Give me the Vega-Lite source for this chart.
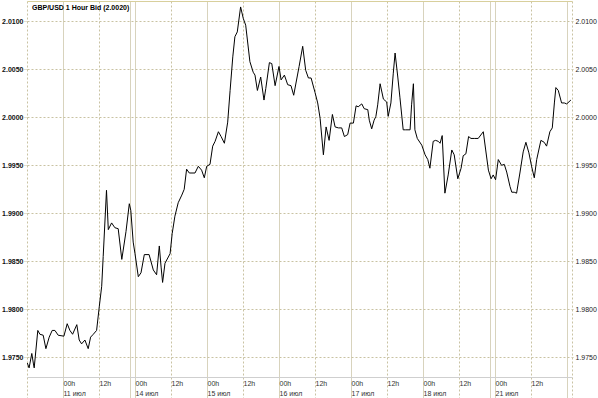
{
  "$schema": "https://vega.github.io/schema/vega-lite/v6.json",
  "width": 545,
  "height": 397,
  "autosize": {"type": "none"},
  "padding": {"left": 27, "top": 1, "right": 26, "bottom": 0},
  "background": "#ffffff",
  "config": {"view": {"stroke": null}, "font": "Liberation Sans"},
  "title": {"text": "GBP/USD 1 Hour Bid (2.0020)", "anchor": "start", "frame": "group", "orient": "top", "offset": -10, "dx": 5, "fontSize": 7, "fontWeight": "bold", "color": "#000000", "font": "Liberation Sans"},
  "data": {"values": [
    {"h":0.1,"v":1.9744},{"h":0.7,"v":1.9739},{"h":1.6,"v":1.9754},{"h":2.1,"v":1.9744},{"h":2.4,"v":1.9739},
    {"h":3.6,"v":1.9778},{"h":4.3,"v":1.9774},{"h":5.4,"v":1.9773},{"h":6.3,"v":1.9759},{"h":7.4,"v":1.9771},
    {"h":8.4,"v":1.9778},{"h":9.3,"v":1.9778},{"h":10.4,"v":1.9773},{"h":12.3,"v":1.9772},{"h":13.4,"v":1.9785},
    {"h":14.3,"v":1.9778},{"h":15.2,"v":1.9774},{"h":16.6,"v":1.9784},{"h":17.4,"v":1.9768},{"h":18.2,"v":1.9764},
    {"h":19.3,"v":1.9768},{"h":20.4,"v":1.9759},{"h":21.2,"v":1.9771},{"h":22.1,"v":1.9774},{"h":23.2,"v":1.9778},
    {"h":24.1,"v":1.9803},{"h":24.9,"v":1.9824},{"h":25.4,"v":1.9855},{"h":26.5,"v":1.9924},{"h":27.1,"v":1.9883},
    {"h":28.2,"v":1.9890},{"h":29.3,"v":1.9885},{"h":30.4,"v":1.9884},{"h":31.6,"v":1.9852},{"h":33,"v":1.9881},
    {"h":34.1,"v":1.9910},{"h":34.6,"v":1.9903},{"h":35.4,"v":1.9870},{"h":36,"v":1.9858},{"h":37.1,"v":1.9834},
    {"h":38,"v":1.9838},{"h":39.1,"v":1.9857},{"h":40.7,"v":1.9857},{"h":42.1,"v":1.9841},{"h":43.2,"v":1.9836},
    {"h":44.1,"v":1.9866},{"h":44.7,"v":1.9844},{"h":45.2,"v":1.9828},{"h":46,"v":1.9848},{"h":47.7,"v":1.9858},
    {"h":48.4,"v":1.9879},{"h":49.3,"v":1.9897},{"h":50.4,"v":1.9911},{"h":51.6,"v":1.9919},{"h":52.4,"v":1.9925},
    {"h":53.2,"v":1.9946},{"h":54.1,"v":1.9942},{"h":56,"v":1.9942},{"h":57.1,"v":1.9949},{"h":58.2,"v":1.9945},
    {"h":59.1,"v":1.9937},{"h":59.9,"v":1.9949},{"h":61,"v":1.9951},{"h":61.9,"v":1.9970},{"h":62.7,"v":1.9975},
    {"h":63.8,"v":1.9985},{"h":64.7,"v":1.9980},{"h":65.8,"v":1.9973},{"h":66.9,"v":1.9995},{"h":67.7,"v":2.0028},
    {"h":68.6,"v":2.0063},{"h":69.3,"v":2.0084},{"h":70.1,"v":2.0089},{"h":71.2,"v":2.0115},{"h":72.1,"v":2.0103},
    {"h":72.9,"v":2.0096},{"h":74.3,"v":2.0058},{"h":75.4,"v":2.0047},{"h":76,"v":2.0044},{"h":76.8,"v":2.0028},
    {"h":77.9,"v":2.0042},{"h":79,"v":2.0018},{"h":79.6,"v":2.0030},{"h":80.8,"v":2.0057},{"h":81.6,"v":2.0056},
    {"h":82.7,"v":2.0033},{"h":84,"v":2.0053},{"h":84.7,"v":2.0039},{"h":85.8,"v":2.0044},{"h":86.9,"v":2.0034},
    {"h":88,"v":2.0033},{"h":88.9,"v":2.0023},{"h":90.7,"v":2.0053},{"h":91.9,"v":2.0074},{"h":92.9,"v":2.0049},
    {"h":93.8,"v":2.0041},{"h":94.7,"v":2.0041},{"h":96,"v":2.0026},{"h":96.9,"v":2.0015},{"h":97.7,"v":1.9999},
    {"h":98.8,"v":1.9961},{"h":99.7,"v":1.9990},{"h":100.7,"v":1.9976},{"h":101.8,"v":2.0003},{"h":102.7,"v":1.9990},
    {"h":103.8,"v":1.9989},{"h":104.9,"v":1.9989},{"h":105.8,"v":1.9980},{"h":106.9,"v":1.9982},{"h":107.7,"v":1.9994},
    {"h":108.8,"v":1.9994},{"h":109.7,"v":2.0012},{"h":110.4,"v":2.0011},{"h":111.6,"v":2.0014},{"h":112.4,"v":2.0009},
    {"h":113.6,"v":2.0008},{"h":114.1,"v":1.9997},{"h":114.9,"v":1.9988},{"h":115.7,"v":1.9997},{"h":116.3,"v":2.0001},
    {"h":116.9,"v":2.0013},{"h":117.7,"v":2.0035},{"h":118.8,"v":2.0019},{"h":119.9,"v":2.0016},{"h":120.4,"v":2.0001},
    {"h":121.3,"v":2.0015},{"h":122.1,"v":2.0046},{"h":122.7,"v":2.0067},{"h":123.6,"v":2.0042},{"h":124.3,"v":2.0021},
    {"h":125.4,"v":1.9987},{"h":126.2,"v":1.9987},{"h":127.7,"v":1.9987},{"h":128.2,"v":2.0013},{"h":128.8,"v":2.0035},
    {"h":129.3,"v":1.9987},{"h":130.1,"v":1.9978},{"h":131.6,"v":1.9971},{"h":132.7,"v":1.9961},{"h":133.6,"v":1.9956},
    {"h":134.3,"v":1.9947},{"h":135.4,"v":1.9975},{"h":136.2,"v":1.9976},{"h":137.1,"v":1.9975},{"h":137.7,"v":1.9973},
    {"h":138.4,"v":1.9981},{"h":139.3,"v":1.9921},{"h":140.4,"v":1.9940},{"h":141.6,"v":1.9966},{"h":142.4,"v":1.9961},
    {"h":143.6,"v":1.9936},{"h":144.7,"v":1.9947},{"h":145.4,"v":1.9960},{"h":146.3,"v":1.9962},{"h":147.2,"v":1.9980},
    {"h":148,"v":1.9978},{"h":149.1,"v":1.9978},{"h":150.4,"v":1.9978},{"h":152.1,"v":1.9985},{"h":152.9,"v":1.9966},
    {"h":153.8,"v":1.9945},{"h":154.7,"v":1.9936},{"h":155.4,"v":1.9940},{"h":156.2,"v":1.9935},{"h":157.1,"v":1.9956},
    {"h":158.2,"v":1.9950},{"h":159.1,"v":1.9951},{"h":159.9,"v":1.9943},{"h":161,"v":1.9928},{"h":161.6,"v":1.9922},
    {"h":162.4,"v":1.9922},{"h":163.2,"v":1.9921},{"h":164.3,"v":1.9942},{"h":165.4,"v":1.9964},{"h":166.3,"v":1.9974},
    {"h":167.3,"v":1.9963},{"h":168.2,"v":1.9949},{"h":169.1,"v":1.9937},{"h":169.9,"v":1.9956},{"h":171.3,"v":1.9976},
    {"h":172.4,"v":1.9974},{"h":173.2,"v":1.9970},{"h":174.3,"v":1.9985},{"h":175.1,"v":1.9989},{"h":175.8,"v":2.0015},
    {"h":176.3,"v":2.0031},{"h":177.1,"v":2.0028},{"h":178.2,"v":2.0015},{"h":179.1,"v":2.0015},{"h":179.9,"v":2.0014},
    {"h":181.3,"v":2.0018}
  ]},
  "layer": [
    {
      "mark": {"type": "line", "color": "#000000", "strokeWidth": 1, "clip": true},
      "encoding": {
        "x": {
          "field": "h", "type": "quantitative",
          "scale": {"domain": [0, 181.67], "nice": false, "zero": false},
          "axis": {
            "orient": "bottom", "offset": -21, "title": null,
            "values": [0, 12, 24, 34.4, 36, 48, 60, 72, 84, 96, 108, 120, 132, 144, 154.4, 156, 168, 180, 181.67],
            "labelExpr": "datum.value == 0 || datum.value >= 180 || datum.value % 12 != 0 ? '' : (datum.value % 24 == 0 ? '12h' : ['00h', ['11 июл','14 июл','15 июл','16 июл','17 июл','18 июл','21 июл'][(datum.value - 12) / 24]])",
            "ticks": false,
            "domain": true, "domainColor": "#cfcfcf", "domainWidth": 1,
            "labelAlign": "left", "labelBaseline": "top", "labelPadding": 2, "labelDx": 1,
            "labelFontSize": 7, "labelColor": "#333333", "labelFont": "Liberation Sans", "labelLineHeight": 10,
            "labelOverlap": false, "labelFlush": false, "labelBound": false,
            "grid": true,
            "gridColor": {"condition": {"test": "datum.value % 24 == 12 || datum.value == 34.4 || datum.value == 154.4", "value": "#d8d3bd"}, "value": "#c9c2a2"},
            "gridDash": {"condition": {"test": "datum.value % 24 == 12 || datum.value == 34.4 || datum.value == 154.4", "value": []}, "value": [2, 2]},
            "gridWidth": 1
          }
        },
        "y": {
          "field": "v", "type": "quantitative",
          "scale": {"domain": [1.97076, 2.01212], "nice": false, "zero": false},
          "axis": {
            "orient": "left", "title": null,
            "values": [1.975, 1.98, 1.985, 1.99, 1.995, 2.0, 2.005, 2.01],
            "format": ".4f",
            "domain": false,
            "ticks": true, "tickSize": 3, "tickColor": "#c9c2a2", "tickDash": [1, 1],
            "labelPadding": 1, "labelFontSize": 7, "labelFontWeight": "bold", "labelColor": "#111111", "labelFont": "Liberation Sans",
            "grid": true, "gridColor": "#c9c2a2", "gridDash": [2, 2], "gridWidth": 1
          }
        }
      }
    },
    {
      "mark": {"type": "line", "strokeOpacity": 0},
      "encoding": {
        "x": {
          "field": "h", "type": "quantitative",
          "scale": {"domain": [0, 181.67], "nice": false, "zero": false},
          "axis": {"orient": "top", "title": null, "labels": false, "ticks": false, "grid": false, "domain": true, "domainColor": "#d8cf9c", "domainWidth": 1}
        },
        "y": {
          "field": "v", "type": "quantitative",
          "scale": {"domain": [1.97076, 2.01212], "nice": false, "zero": false},
          "axis": {
            "orient": "right", "title": null,
            "values": [1.975, 1.98, 1.985, 1.99, 1.995, 2.0, 2.005, 2.01],
            "format": ".4f",
            "domain": false, "grid": false,
            "ticks": true, "tickSize": 2, "tickColor": "#c9c2a2", "tickDash": [1, 1],
            "labelPadding": 1, "labelFontSize": 7, "labelColor": "#222222", "labelFont": "Liberation Sans"
          }
        }
      }
    }
  ],
  "resolve": {"axis": {"x": "independent", "y": "independent"}}
}
